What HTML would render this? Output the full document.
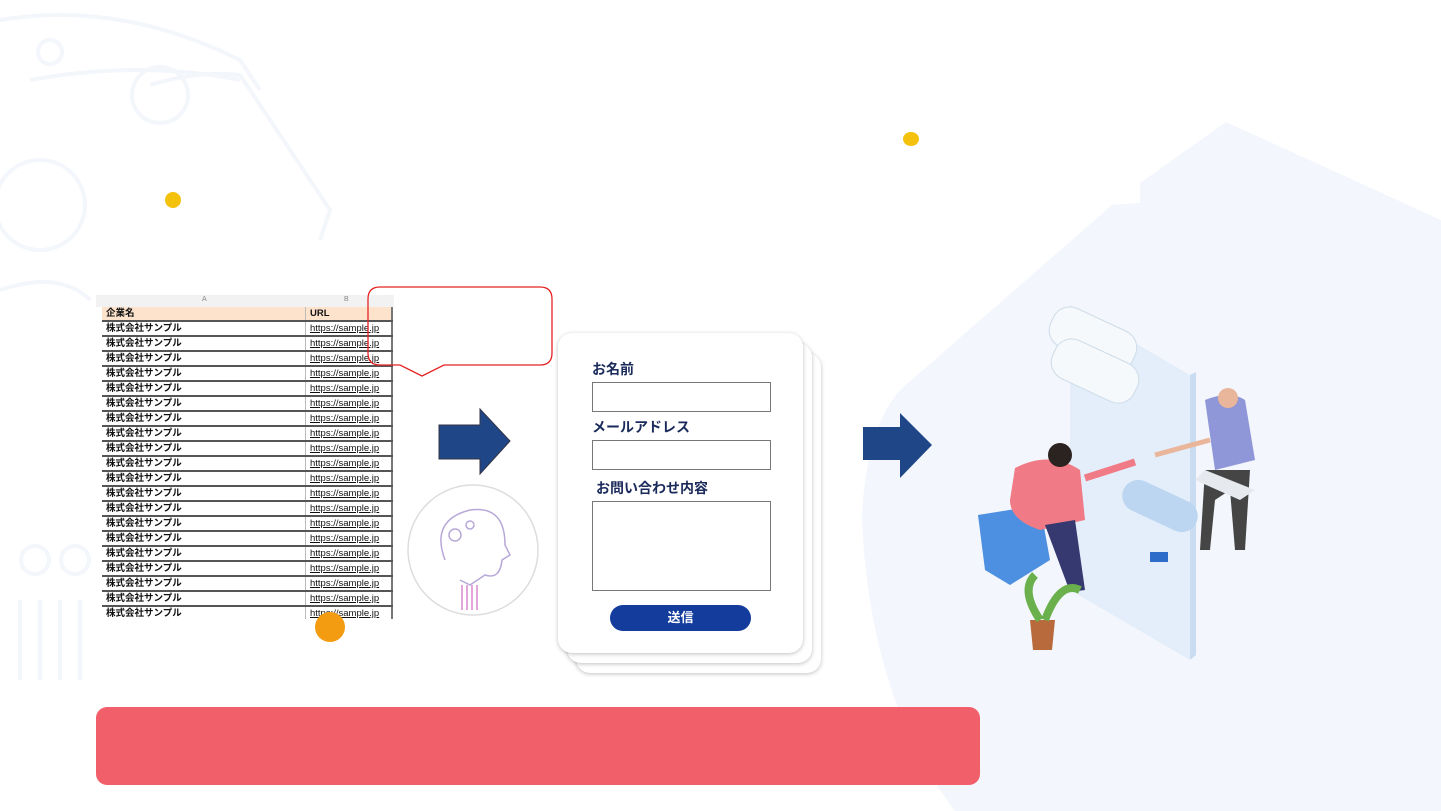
<!DOCTYPE html>
<html><head><meta charset="utf-8"><style>
body{margin:0;width:1441px;height:811px;overflow:hidden;background:#fff;position:relative;font-family:"Liberation Sans","Noto Sans CJK JP",sans-serif}
.abs{position:absolute}
table{border-collapse:collapse;font-size:9.5px;font-weight:bold;color:#111}
td{height:13px;padding:0 4px;border-bottom:2px solid #555;line-height:13px;white-space:nowrap}
td.b{text-decoration:underline;font-weight:normal;border-left:1px solid #bbb;border-right:2px solid #777}
.card{position:absolute;background:#fff;border-radius:14px;box-shadow:0 1px 4px rgba(0,0,0,.25)}
.lbl{position:absolute;left:34px;font-size:14px;font-weight:bold;color:#1a2a5a}
.inp{position:absolute;left:34px;width:177px;border:1px solid #777;background:#fff}
</style></head><body>
<svg class="abs" style="left:0;top:0" width="1441" height="811">
<g fill="none" stroke="#f3f6fb" stroke-width="4">
<path d="M0 20 Q120 0 240 60 L260 90 M30 80 Q140 60 240 80"/>
<circle cx="50" cy="52" r="12"/><circle cx="160" cy="95" r="28"/>
<path d="M150 85 Q200 70 240 75 L330 210 L320 240"/>
<circle cx="40" cy="205" r="45"/>
<path d="M0 290 Q60 270 90 300"/>
<circle cx="35" cy="560" r="14"/><circle cx="75" cy="560" r="14"/>
<path d="M20 600 v80 M40 600 v80 M60 600 v80 M80 600 v80"/>
</g>
<path d="M1226 122 L1441 220 L1441 811 L955 811 Q870 700 862 520 Q865 430 900 390 L1112 205 L1140 203 L1140 183 Z" fill="#f3f6fc"/>
<circle cx="173" cy="200" r="8" fill="#f4c20d"/>
<ellipse cx="911" cy="139" rx="8" ry="7" fill="#f4c20d"/>
<path d="M439 425 H480 V409 L510 441 L480 474 V459 H439 Z" fill="#1f4788" stroke="#334" stroke-width="1"/>
<path d="M863 427 H900 V413 L932 445 L900 478 V460 H863 Z" fill="#1f4788"/>
<circle cx="473" cy="550" r="65" fill="#fff" stroke="#ddd" stroke-width="1.5"/>
<g fill="none" stroke="#b7a8d8" stroke-width="1.5"><path d="M445 560 Q430 520 470 510 Q505 505 505 545 L510 555 L502 560 Q500 580 485 575 L470 585 L460 580"/><circle cx="455" cy="535" r="6"/><circle cx="470" cy="525" r="4"/></g>
<g stroke="#e3a6dc" stroke-width="2"><path d="M462 585 v25 M467 585 v25 M472 585 v25 M477 585 v25"/></g>
</svg>
<div class="abs" style="left:96px;top:295px;width:298px;height:12px;background:#f2f2f2;font-size:7px;color:#888">
<span class="abs" style="left:106px;top:1px">A</span><span class="abs" style="left:248px;top:1px">B</span></div>
<div class="abs" style="left:102px;top:307px;width:292px;height:312px;overflow:hidden">
<table style="width:291px">
<tr style="background:#fde3cc"><td style="width:195px">企業名</td><td class="b" style="text-decoration:none;font-weight:bold">URL</td></tr>
<tr><td>株式会社サンプル</td><td class="b">https://sample.jp</td></tr>
<tr><td>株式会社サンプル</td><td class="b">https://sample.jp</td></tr>
<tr><td>株式会社サンプル</td><td class="b">https://sample.jp</td></tr>
<tr><td>株式会社サンプル</td><td class="b">https://sample.jp</td></tr>
<tr><td>株式会社サンプル</td><td class="b">https://sample.jp</td></tr>
<tr><td>株式会社サンプル</td><td class="b">https://sample.jp</td></tr>
<tr><td>株式会社サンプル</td><td class="b">https://sample.jp</td></tr>
<tr><td>株式会社サンプル</td><td class="b">https://sample.jp</td></tr>
<tr><td>株式会社サンプル</td><td class="b">https://sample.jp</td></tr>
<tr><td>株式会社サンプル</td><td class="b">https://sample.jp</td></tr>
<tr><td>株式会社サンプル</td><td class="b">https://sample.jp</td></tr>
<tr><td>株式会社サンプル</td><td class="b">https://sample.jp</td></tr>
<tr><td>株式会社サンプル</td><td class="b">https://sample.jp</td></tr>
<tr><td>株式会社サンプル</td><td class="b">https://sample.jp</td></tr>
<tr><td>株式会社サンプル</td><td class="b">https://sample.jp</td></tr>
<tr><td>株式会社サンプル</td><td class="b">https://sample.jp</td></tr>
<tr><td>株式会社サンプル</td><td class="b">https://sample.jp</td></tr>
<tr><td>株式会社サンプル</td><td class="b">https://sample.jp</td></tr>
<tr><td>株式会社サンプル</td><td class="b">https://sample.jp</td></tr>
<tr><td>株式会社サンプル</td><td class="b">https://sample.jp</td></tr>
</table></div>
<svg class="abs" style="left:0;top:0" width="1441" height="811">
<circle cx="330" cy="627" r="15" fill="#f39c12"/>
<path d="M380 287 H540 Q552 287 552 299 V353 Q552 365 540 365 H444 L422 376 L400 365 H380 Q368 365 368 353 V299 Q368 287 380 287 Z" fill="none" stroke="#e52222" stroke-width="1.3"/>
</svg>
<div class="card" style="left:576px;top:353px;width:245px;height:320px"></div>
<div class="card" style="left:567px;top:343px;width:245px;height:320px"></div>
<div class="card" style="left:558px;top:333px;width:245px;height:320px">
<div class="lbl" style="top:26px">お名前</div>
<div class="inp" style="top:49px;height:28px"></div>
<div class="lbl" style="top:84px">メールアドレス</div>
<div class="inp" style="top:107px;height:28px"></div>
<div class="lbl" style="top:145px;left:38px">お問い合わせ内容</div>
<div class="inp" style="top:168px;height:88px"></div>
<div class="abs" style="left:52px;top:272px;width:141px;height:26px;background:#133c9c;border-radius:13px;color:#fff;font-size:13px;font-weight:bold;text-align:center;line-height:26px">送信</div>
</div>
<svg class="abs" style="left:0;top:0" width="1441" height="811">
<path d="M1070 305 L1190 375 V660 L1070 590 Z" fill="#e3eefa"/>
<path d="M1190 375 L1196 372 V655 L1190 660 Z" fill="#c9dcf0"/>
<rect x="1048" y="318" width="90" height="42" rx="18" fill="#f6f9fc" stroke="#cddbe8" transform="rotate(25 1093 339)"/>
<rect x="1050" y="350" width="90" height="42" rx="18" fill="#f6f9fc" stroke="#cddbe8" transform="rotate(25 1095 371)"/>
<rect x="1120" y="490" width="80" height="32" rx="16" fill="#bcd6f1" transform="rotate(25 1160 506)"/>
<rect x="1150" y="552" width="18" height="10" fill="#2e6cc9"/>
<path d="M978 515 L1040 505 L1050 560 L1010 585 L985 570 Z" fill="#4d8fe0"/>
<path d="M1015 468 Q1050 450 1080 470 L1085 520 L1040 530 Q1010 520 1010 500 Z" fill="#f07a85"/>
<path d="M1085 478 L1135 462" stroke="#f07a85" stroke-width="7"/>
<circle cx="1060" cy="455" r="12" fill="#2a2320"/>
<path d="M1045 525 L1075 520 L1085 590 L1070 592 Z" fill="#363970"/>
<path d="M1030 620 h25 l-3 30 h-19 Z" fill="#b96a3c"/>
<path d="M1040 620 Q1020 590 1035 575 M1045 620 Q1060 580 1080 590" stroke="#6ab04c" stroke-width="8" fill="none"/>
<path d="M1205 400 Q1230 390 1245 400 L1255 460 L1215 470 Z" fill="#8f97d8"/>
<circle cx="1228" cy="398" r="10" fill="#e9b59b"/>
<path d="M1205 470 L1250 470 L1245 550 L1235 550 L1230 490 L1215 500 L1210 550 L1200 550 Z" fill="#454545"/>
<path d="M1205 470 L1255 490 L1240 500 L1195 480 Z" fill="#e6eaef"/>
<path d="M1155 455 L1210 440" stroke="#e9b59b" stroke-width="5"/>
</svg>
<div class="abs" style="left:96px;top:707px;width:884px;height:78px;background:#f1606a;border-radius:11px"></div>
</body></html>
